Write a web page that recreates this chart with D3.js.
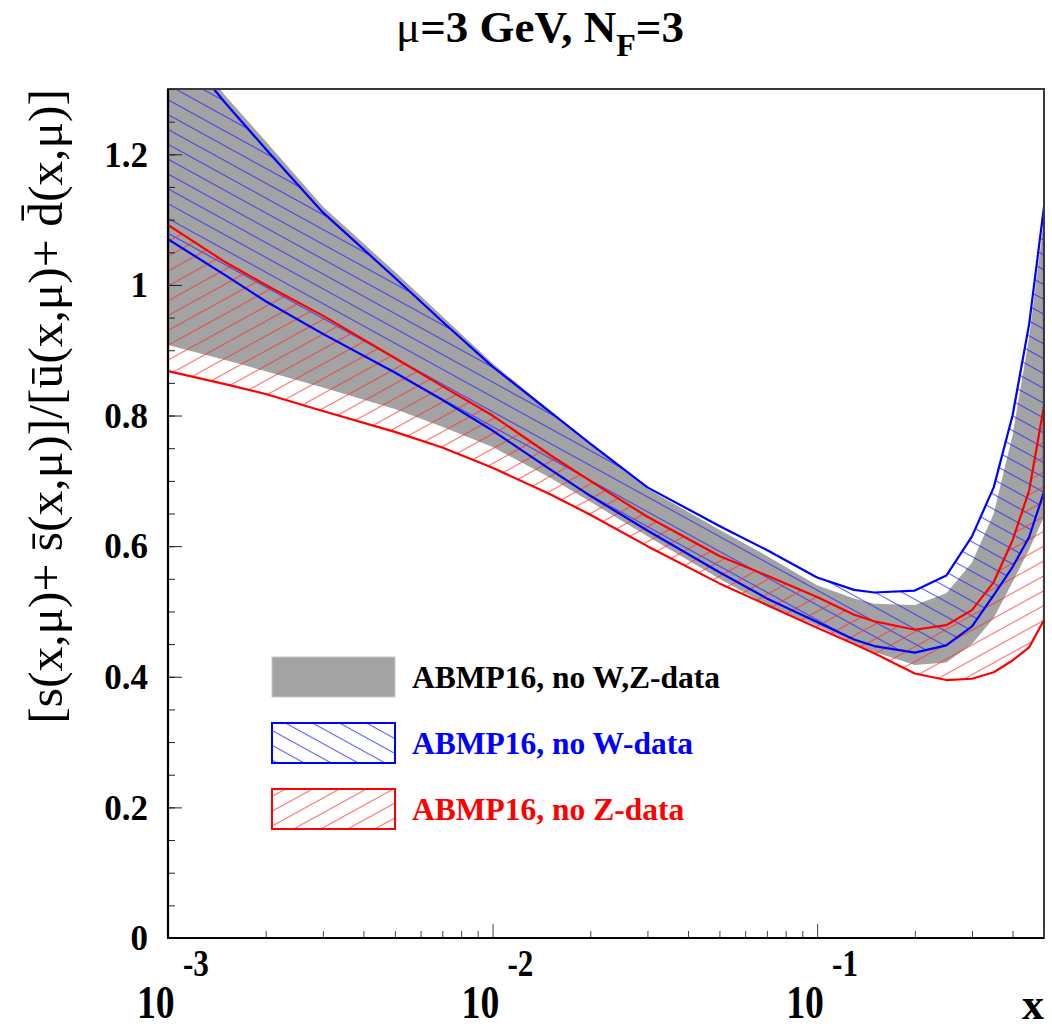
<!DOCTYPE html>
<html>
<head>
<meta charset="utf-8">
<script src="https://cdn.jsdelivr.net/npm/d3@7"></script>
<style>
  body { margin: 0; background: #fff; }
  svg { display: block; }
  text { font-family: "Liberation Serif", "Times New Roman", serif; }
</style>
</head>
<body>
<svg id="chart" width="1052" height="1029"></svg>
<script>
// Strange-sea to light-sea ratio at mu = 3 GeV, N_F = 3, three ABMP16 variants
const xValues  = [0.001, 0.0015, 0.002, 0.003, 0.005, 0.007, 0.01, 0.015, 0.02, 0.03, 0.05, 0.07, 0.1, 0.13, 0.15, 0.2, 0.25, 0.3, 0.35, 0.4, 0.45, 0.5];
// ABMP16, no W,Z-data (grey band)
const noWZHigh = [1.400, 1.290, 1.220, 1.120, 1.020, 0.952, 0.880, 0.808, 0.757, 0.688, 0.625, 0.585, 0.540, 0.520, 0.512, 0.510, 0.528, 0.575, 0.650, 0.770, 0.920, 1.100];
const noWZLow  = [0.908, 0.885, 0.868, 0.843, 0.810, 0.783, 0.752, 0.705, 0.668, 0.615, 0.550, 0.510, 0.478, 0.452, 0.438, 0.418, 0.422, 0.450, 0.490, 0.545, 0.595, 0.645];
// ABMP16, no W-data (blue hatched band)
const noWHigh  = [1.385, 1.279, 1.208, 1.111, 1.011, 0.944, 0.875, 0.806, 0.757, 0.690, 0.631, 0.594, 0.552, 0.533, 0.529, 0.532, 0.555, 0.615, 0.690, 0.800, 0.940, 1.120];
const noWLow   = [1.070, 1.015, 0.975, 0.925, 0.866, 0.824, 0.777, 0.718, 0.677, 0.624, 0.560, 0.520, 0.484, 0.457, 0.447, 0.437, 0.448, 0.477, 0.525, 0.568, 0.614, 0.683];
// ABMP16, no Z-data (red hatched band)
const noZHigh  = [1.092, 1.035, 1.000, 0.953, 0.888, 0.845, 0.800, 0.740, 0.700, 0.645, 0.585, 0.555, 0.522, 0.495, 0.485, 0.472, 0.479, 0.502, 0.545, 0.609, 0.685, 0.815];
const noZLow   = [0.868, 0.848, 0.833, 0.807, 0.775, 0.751, 0.720, 0.680, 0.648, 0.600, 0.543, 0.510, 0.475, 0.450, 0.436, 0.405, 0.395, 0.397, 0.407, 0.425, 0.445, 0.487];

const yTickValues = [0, 0.2, 0.4, 0.6, 0.8, 1.0, 1.2];
const yTickLabels = ["0", "0.2", "0.4", "0.6", "0.8", "1", "1.2"];
const xTickExponents = [-3, -2, -1];
const legendLabels = ["ABMP16, no W,Z-data", "ABMP16, no W-data", "ABMP16, no Z-data"];

const svg = d3.select("#chart");
const frame = { left: 168, right: 1044, top: 89, bottom: 938 };

const x = d3.scaleLog().domain([0.001, 0.5]).range([frame.left, frame.right]);
const y = d3.scaleLinear().domain([0, 1.3]).range([frame.bottom, frame.top]);

const defs = svg.append("defs");
function hatch(id, color, angle) {
  const p = defs.append("pattern")
    .attr("id", id)
    .attr("patternUnits", "userSpaceOnUse")
    .attr("width", 13).attr("height", 13)
    .attr("patternTransform", `rotate(${angle})`);
  p.append("line")
    .attr("x1", -1).attr("y1", 6.5).attr("x2", 14).attr("y2", 6.5)
    .attr("stroke", color).attr("stroke-width", 1.1);
}
hatch("hatchBlue", "rgba(30,30,255,0.72)", 28.8);
hatch("hatchRed", "rgba(255,40,40,0.68)", -28.8);

defs.append("clipPath").attr("id", "plotClip")
  .append("rect")
  .attr("x", frame.left).attr("y", frame.top)
  .attr("width", frame.right - frame.left).attr("height", frame.bottom - frame.top);

// keep the part of a closed polygon that lies below the frame top
function clipTop(pts, yTop) {
  const out = [];
  for (let i = 0; i < pts.length; i++) {
    const a = pts[i], b = pts[(i + 1) % pts.length];
    const ain = a[1] >= yTop, bin = b[1] >= yTop;
    if (ain) out.push(a);
    if (ain !== bin) {
      const t = (yTop - a[1]) / (b[1] - a[1]);
      out.push([a[0] + t * (b[0] - a[0]), yTop]);
    }
  }
  return out;
}
function bandPath(lo, hi) {
  const upper = xValues.map((v, i) => [x(v), y(hi[i])]);
  const lower = xValues.map((v, i) => [x(v), y(lo[i])]).reverse();
  const pts = clipTop(upper.concat(lower), frame.top);
  return d3.line()(pts) + "Z";
}

const plot = svg.append("g").attr("clip-path", "url(#plotClip)");

// grey band
plot.append("path").attr("d", bandPath(noWZLow, noWZHigh))
  .attr("fill", "#a3a3a3").attr("stroke", "none");
// hatched bands
plot.append("path").attr("d", bandPath(noWLow, noWHigh))
  .attr("fill", "url(#hatchBlue)").attr("stroke", "none");
plot.append("path").attr("d", bandPath(noZLow, noZHigh))
  .attr("fill", "url(#hatchRed)").attr("stroke", "none");
// band outlines
plot.append("path").attr("d", bandPath(noWLow, noWHigh))
  .attr("fill", "none").attr("stroke", "#0000ff").attr("stroke-width", 2.2)
  .attr("stroke-linejoin", "round");
plot.append("path").attr("d", bandPath(noZLow, noZHigh))
  .attr("fill", "none").attr("stroke", "#ff0000").attr("stroke-width", 2.2)
  .attr("stroke-linejoin", "round");

// frame
svg.append("rect")
  .attr("x", frame.left).attr("y", frame.top)
  .attr("width", frame.right - frame.left).attr("height", frame.bottom - frame.top)
  .attr("fill", "none").attr("stroke", "#3a3a3a").attr("stroke-width", 2);

// y axis ticks (inward)
const yMinor = d3.range(0, 1.3001, 0.05).map(v => +v.toFixed(2));
svg.append("g").attr("transform", `translate(${frame.left},0)`)
  .call(d3.axisLeft(y).tickValues(yMinor).tickSize(-7).tickFormat(""))
  .call(g => g.select(".domain").remove())
  .call(g => g.selectAll("line").attr("stroke", "#222").attr("stroke-width", 1));
svg.append("g").attr("transform", `translate(${frame.left},0)`)
  .call(d3.axisLeft(y).tickValues(yTickValues).tickSize(-14).tickFormat(""))
  .call(g => g.select(".domain").remove())
  .call(g => g.selectAll("line").attr("stroke", "#222").attr("stroke-width", 1));

// x axis ticks (inward)
const xMinor = [];
[0.001, 0.01, 0.1].forEach(d => { for (let k = 2; k <= 9; k++) if (k * d <= 0.5 + 1e-9) xMinor.push(+(k * d).toPrecision(3)); });
const xMajor = xTickExponents.map(e => Math.pow(10, e));
svg.append("g").attr("transform", `translate(0,${frame.bottom})`)
  .call(d3.axisBottom(x).tickValues(xMinor).tickSize(-7).tickFormat(""))
  .call(g => g.select(".domain").remove())
  .call(g => g.selectAll("line").attr("stroke", "#444").attr("stroke-width", 1));
svg.append("g").attr("transform", `translate(0,${frame.bottom})`)
  .call(d3.axisBottom(x).tickValues(xMajor).tickSize(-14).tickFormat(""))
  .call(g => g.select(".domain").remove())
  .call(g => g.selectAll("line").attr("stroke", "#444").attr("stroke-width", 1));

// axis lines drawn darker over the frame
svg.append("line").attr("x1", frame.left).attr("x2", frame.left)
  .attr("y1", frame.top).attr("y2", frame.bottom + 1)
  .attr("stroke", "#000").attr("stroke-width", 2.2);
svg.append("line").attr("x1", frame.left - 1).attr("x2", frame.right)
  .attr("y1", frame.bottom).attr("y2", frame.bottom)
  .attr("stroke", "#000").attr("stroke-width", 2.2);

// y tick labels
svg.append("g").selectAll("text").data(yTickValues).join("text")
  .attr("x", 148).attr("y", d => y(d))
  .attr("dy", "0.35em")
  .attr("text-anchor", "end")
  .attr("font-size", 35).attr("font-weight", "bold")
  .text((d, i) => yTickLabels[i]);

// x tick labels 10^n (slightly condensed glyphs)
const xl = svg.append("g").selectAll("g").data(xTickExponents).join("g")
  .attr("transform", d => `translate(${x(Math.pow(10, d)) - 31},1018) scale(0.82,1)`);
xl.append("text").attr("font-size", 46).attr("font-weight", "bold").text("10");
xl.append("text").attr("x", 56).attr("y", -42)
  .attr("font-size", 38).attr("font-weight", "bold")
  .text(d => "-" + Math.abs(d));

// axis titles
svg.append("text")
  .attr("x", 1044).attr("y", 1019)
  .attr("text-anchor", "end")
  .attr("font-size", 44).attr("font-weight", "bold")
  .text("x");

svg.append("text")
  .attr("transform", "translate(62,89) rotate(-90)")
  .attr("text-anchor", "end")
  .attr("font-size", 49.5)
  .text("[s(x,\u03bc)+ s\u0304(x,\u03bc)]/[u\u0304(x,\u03bc)+ d\u0304(x,\u03bc)]");

// title
const title = svg.append("text")
  .attr("x", 540).attr("y", 42)
  .attr("text-anchor", "middle")
  .attr("font-size", 45).attr("font-weight", "bold");
title.append("tspan").attr("font-weight", "normal").text("\u03bc");
title.append("tspan").text("=3 GeV, N");
title.append("tspan").attr("font-size", 32).attr("dy", 14).text("F");
title.append("tspan").attr("dy", -14).text("=3");

// legend
const legendFills = ["#a3a3a3", "url(#hatchBlue)", "url(#hatchRed)"];
const legendStrokes = ["#c8c8c8", "#0000ff", "#ff0000"];
const legendColors = ["#000", "#0000ff", "#ff0000"];
const lg = svg.append("g").selectAll("g").data(legendLabels).join("g")
  .attr("transform", (d, i) => `translate(272,${657 + i * 66})`);
lg.append("rect")
  .attr("width", 123).attr("height", 40)
  .attr("fill", (d, i) => legendFills[i])
  .attr("stroke", (d, i) => legendStrokes[i])
  .attr("stroke-width", (d, i) => i === 0 ? 1 : 2);
lg.append("text")
  .attr("x", 140).attr("y", 31)
  .attr("font-size", 31.5).attr("font-weight", "bold")
  .attr("fill", (d, i) => legendColors[i])
  .text(d => d);
</script>
</body>
</html>
